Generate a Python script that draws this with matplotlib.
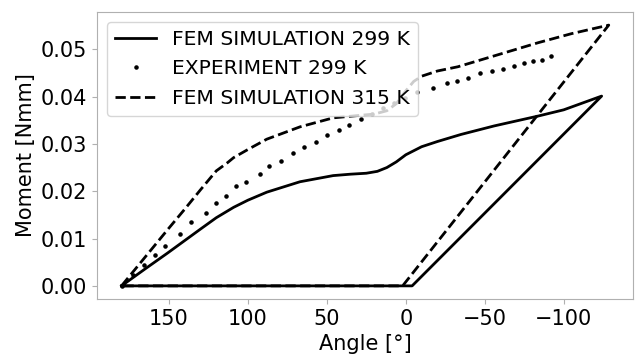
import matplotlib
matplotlib.use("Agg")
import matplotlib.pyplot as plt

# FEM simulation at 299 K: loading branch, then unloading and return along zero
fem299_angle = [180, 165, 151, 130, 120, 109, 100, 88, 67, 46, 35, 25, 18, 12, 6, 0,
                -10, -20, -35, -56, -84, -100, -124, -4, 180]
fem299_moment = [0.0, 0.0036, 0.0069, 0.0120, 0.0144, 0.0166, 0.0181, 0.0198, 0.0220,
                 0.0233, 0.0236, 0.0238, 0.0242, 0.0250, 0.0262, 0.0277, 0.0294,
                 0.0305, 0.0320, 0.0338, 0.0359, 0.0372, 0.0401, 0.0, 0.0]

# Experimental measurement at 299 K
exp_angle = [180, 173, 166, 159, 152.5, 143, 135.7, 126.2, 120, 113.6, 107.3, 101,
             92.6, 86.3, 79, 71.6, 64.3, 56.9, 49.6, 42.6, 35.9, 28.5, 21.5, 14.5,
             7.5, 0.5, -7, -17, -26, -32.3, -39.7, -47, -54.4, -61.8, -68.7, -75,
             -80.7, -86.3, -92.2]
exp_moment = [0.0, 0.0022, 0.0045, 0.0065, 0.0085, 0.0110, 0.0134, 0.0155, 0.0176,
              0.0190, 0.0210, 0.0219, 0.0236, 0.0254, 0.0264, 0.0280, 0.0294, 0.0304,
              0.0318, 0.0330, 0.0340, 0.0352, 0.0364, 0.0375, 0.0386, 0.0398, 0.0410,
              0.0419, 0.0428, 0.0433, 0.0440, 0.0449, 0.0454, 0.0459, 0.0464, 0.0470,
              0.0475, 0.0478, 0.0485]

# FEM simulation at 315 K
fem315_angle = [180, 165, 151, 140, 130, 120, 113, 109, 99, 88, 67, 46, 30, 20, 12,
                6, 1, -5, -10, -20, -33, -42, -63, -84, -105, -128.5, 2, 180]
fem315_moment = [0.0, 0.0061, 0.0118, 0.0162, 0.0203, 0.0243, 0.0260, 0.0271, 0.0290,
                 0.0310, 0.0336, 0.0355, 0.0360, 0.0363, 0.0370, 0.0385, 0.0408,
                 0.0432, 0.0443, 0.0454, 0.0463, 0.0472, 0.0493, 0.0514, 0.0533,
                 0.0551, 0.0, 0.0]

fig = plt.figure(figsize=(6.35, 3.55), dpi=100)
ax = fig.add_axes([0.153, 0.158, 0.844, 0.808])

ax.plot(fem299_angle, fem299_moment, color="black", lw=2, ls="-",
        label="FEM SIMULATION 299 K")
ax.plot(exp_angle, exp_moment, color="black", ls="none", marker=".", ms=4.5,
        label="EXPERIMENT 299 K")
ax.plot(fem315_angle, fem315_moment, color="black", lw=2, ls="--",
        label="FEM SIMULATION 315 K")

ax.invert_xaxis()
ax.set_xticks([150, 100, 50, 0, -50, -100])
ax.set_yticks([0.0, 0.01, 0.02, 0.03, 0.04, 0.05])
ax.set_xlabel("Angle [°]", fontsize=15)
ax.set_ylabel("Moment [Nmm]", fontsize=15)
ax.tick_params(labelsize=15, color="#b0b0b0")
for s in ax.spines.values():
    s.set_color("#b0b0b0")

ax.legend(loc="upper left", fontsize=14.6, borderaxespad=0.5)

fig.savefig("out.png", dpi=100)
